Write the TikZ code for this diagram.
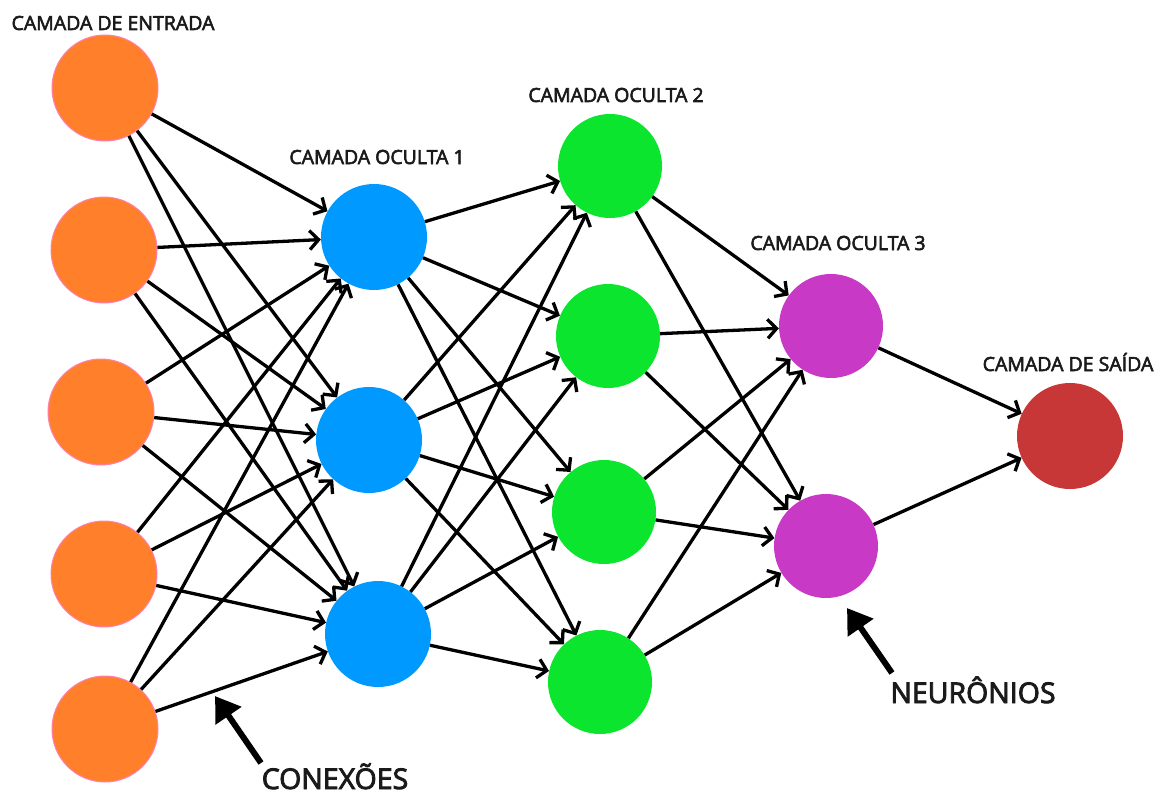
\documentclass[tikz,border=0pt]{standalone}
\usepackage{fontspec}
\setmainfont{Open Sans}
\newfontfamily\labfont{Open Sans}[FakeBold=3]
\usetikzlibrary{arrows.meta}
\definecolor{cin}{HTML}{FF7F2A}
\definecolor{cinb}{HTML}{FF80B2}
\definecolor{chone}{HTML}{0099FF}
\definecolor{chtwo}{HTML}{0CE52E}
\definecolor{chthree}{HTML}{C83AC6}
\definecolor{cout}{HTML}{C83737}
\definecolor{ctext}{HTML}{1A1A1A}
\begin{document}
\begin{tikzpicture}[x=1pt,y=-1pt,
  neuron/.style={circle,inner sep=0pt,minimum size=106pt},
  lay/.style={anchor=base,inner sep=0pt,font=\labfont\fontsize{19.5}{19.5}\selectfont,text=ctext},
  big/.style={anchor=base,inner sep=0pt,font=\labfont\fontsize{28.5}{28.5}\selectfont,text=ctext},
  conn/.style={line width=3.3pt,-{Straight Barb[length=9pt,width=19pt,line width=3.3pt]}},
  pointer/.style={line width=6pt,-{Triangle[length=24pt,width=30pt]}}]
\useasboundingbox (0,0) rectangle (1163,792);
% input layer
\node[neuron,fill=cin,draw=cinb,line width=1pt] (i1) at (105,88) {};
\node[neuron,fill=cin,draw=cinb,line width=1pt] (i2) at (104,250) {};
\node[neuron,fill=cin,draw=cinb,line width=1pt] (i3) at (101,412) {};
\node[neuron,fill=cin,draw=cinb,line width=1pt] (i4) at (104,574) {};
\node[neuron,fill=cin,draw=cinb,line width=1pt] (i5) at (105,729) {};
% hidden 1
\node[neuron,fill=chone] (a1) at (374,237) {};
\node[neuron,fill=chone] (a2) at (369,440) {};
\node[neuron,fill=chone] (a3) at (378,634) {};
% hidden 2
\node[neuron,fill=chtwo,minimum size=104pt] (b1) at (610,166) {};
\node[neuron,fill=chtwo,minimum size=104pt] (b2) at (608,336) {};
\node[neuron,fill=chtwo,minimum size=104pt] (b3) at (604,512) {};
\node[neuron,fill=chtwo,minimum size=104pt] (b4) at (600,682) {};
% hidden 3
\node[neuron,fill=chthree,minimum size=104pt] (c1) at (831,326) {};
\node[neuron,fill=chthree,minimum size=104pt] (c2) at (826,546) {};
% output
\node[neuron,fill=cout] (o1) at (1070,436) {};
% connections
\foreach \s in {i1,i2,i3,i4,i5}{\foreach \t in {a1,a2,a3}{\draw[conn] (\s) -- (\t);}}
\foreach \s in {a1,a2,a3}{\foreach \t in {b1,b2,b3,b4}{\draw[conn] (\s) -- (\t);}}
\foreach \s in {b1,b2,b3,b4}{\foreach \t in {c1,c2}{\draw[conn] (\s) -- (\t);}}
\foreach \s in {c1,c2}{\draw[conn] (\s) -- (o1);}
% labels
\node[lay] (l0) at (113,30) {CAMADA DE ENTRADA};
\node[lay] (l1) at (377,164) {CAMADA OCULTA 1};
\node[lay] (l2) at (616,102) {CAMADA OCULTA 2};
\node[lay] (l3) at (838,250) {CAMADA OCULTA 3};
\node[lay] (l4) at (1068,371) {CAMADA DE SAÍDA};
\node[big] (nn) at (973,703) {NEURÔNIOS};
\node[big] (cc) at (335,789) {CONEXÕES};
\coordinate (nf) at (892,673);
\coordinate (nt) at (847,608);
\coordinate (cf) at (261,763);
\coordinate (ct) at (215,696);
\draw[pointer] (nf) -- (nt);
\draw[pointer] (cf) -- (ct);
\end{tikzpicture}
\end{document}
